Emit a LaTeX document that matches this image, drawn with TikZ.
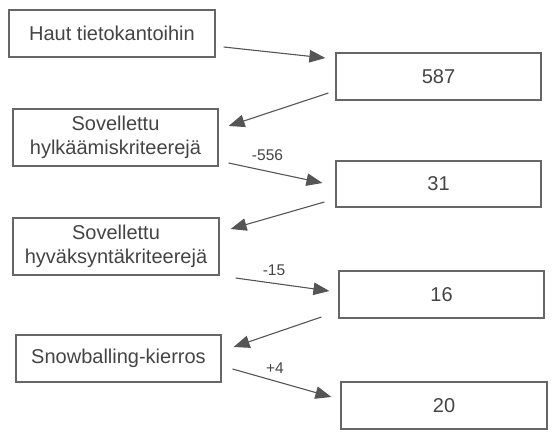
\documentclass[tikz,border=0pt]{standalone}
\usepackage{fontspec}
\setmainfont{Liberation Sans}
\usetikzlibrary{arrows.meta}
\definecolor{boxline}{HTML}{666666}
\definecolor{arrline}{HTML}{555555}
\definecolor{txt}{HTML}{444444}
\begin{document}
\begin{tikzpicture}[x=1pt,y=-1pt,
  box/.style={draw=boxline,line width=1.2pt,minimum width=205pt,minimum height=47pt,inner sep=0pt,align=center,text=txt,font=\fontsize{20}{24}\selectfont},
  tallbox/.style={box,minimum height=57pt},
  arr/.style={draw=arrline,line width=1.1pt,-{Triangle[length=16pt,width=12.5pt]}},
  lbl/.style={text=txt,font=\fontsize{15.5}{18}\selectfont}]
\useasboundingbox (0,0) rectangle (556,439);

\node[box,minimum width=206pt] (haut) at (112,33.5) {Haut tietokantoihin};
\node[tallbox] (hylk) at (115.5,137.5) {Sovellettu\\hylkäämiskriteerejä};
\node[tallbox,minimum width=206pt] (hyv) at (116,246.5) {Sovellettu\\hyväksyntäkriteerejä};
\node[box] (snow) at (118.5,358.5) {Snowballing-kierros};

\node[box] (n587) at (438.5,76.5) {587};
\node[box,minimum height=46pt] (n31) at (438.5,184) {31};
\node[box] (n16) at (441.5,294.5) {16};
\node[box,minimum width=206pt] (n20) at (444,405.5) {20};

\draw[arr] ([xshift=8pt,yshift=-13.5pt]haut.east) -- ([xshift=-10pt,yshift=18.5pt]n587.west);
\draw[arr] ([xshift=-7pt,yshift=-16.5pt]n587.west) -- ([xshift=10pt,yshift=11.5pt]hylk.east);
\draw[arr] ([xshift=10pt,yshift=-25.5pt]hylk.east) -- ([xshift=-13pt,yshift=1pt]n31.west);
\draw[arr] ([xshift=-11pt,yshift=-18pt]n31.west) -- ([xshift=11pt,yshift=17.5pt]hyv.east);
\draw[arr] ([xshift=16pt,yshift=-31.5pt]hyv.east) -- ([xshift=-9pt,yshift=3.5pt]n16.west);
\draw[arr] ([xshift=-17pt,yshift=-22.5pt]n16.west) -- ([xshift=12pt,yshift=11.5pt]snow.east);
\draw[arr] ([xshift=11pt,yshift=-10.5pt]snow.east) -- ([xshift=-9pt,yshift=8.5pt]n20.west);

\node[lbl] (l556) at (267.5,155) {-556};
\node[lbl] (l15) at (274,270) {-15};
\node[lbl] (l4) at (275,368) {+4};
\end{tikzpicture}
\end{document}
